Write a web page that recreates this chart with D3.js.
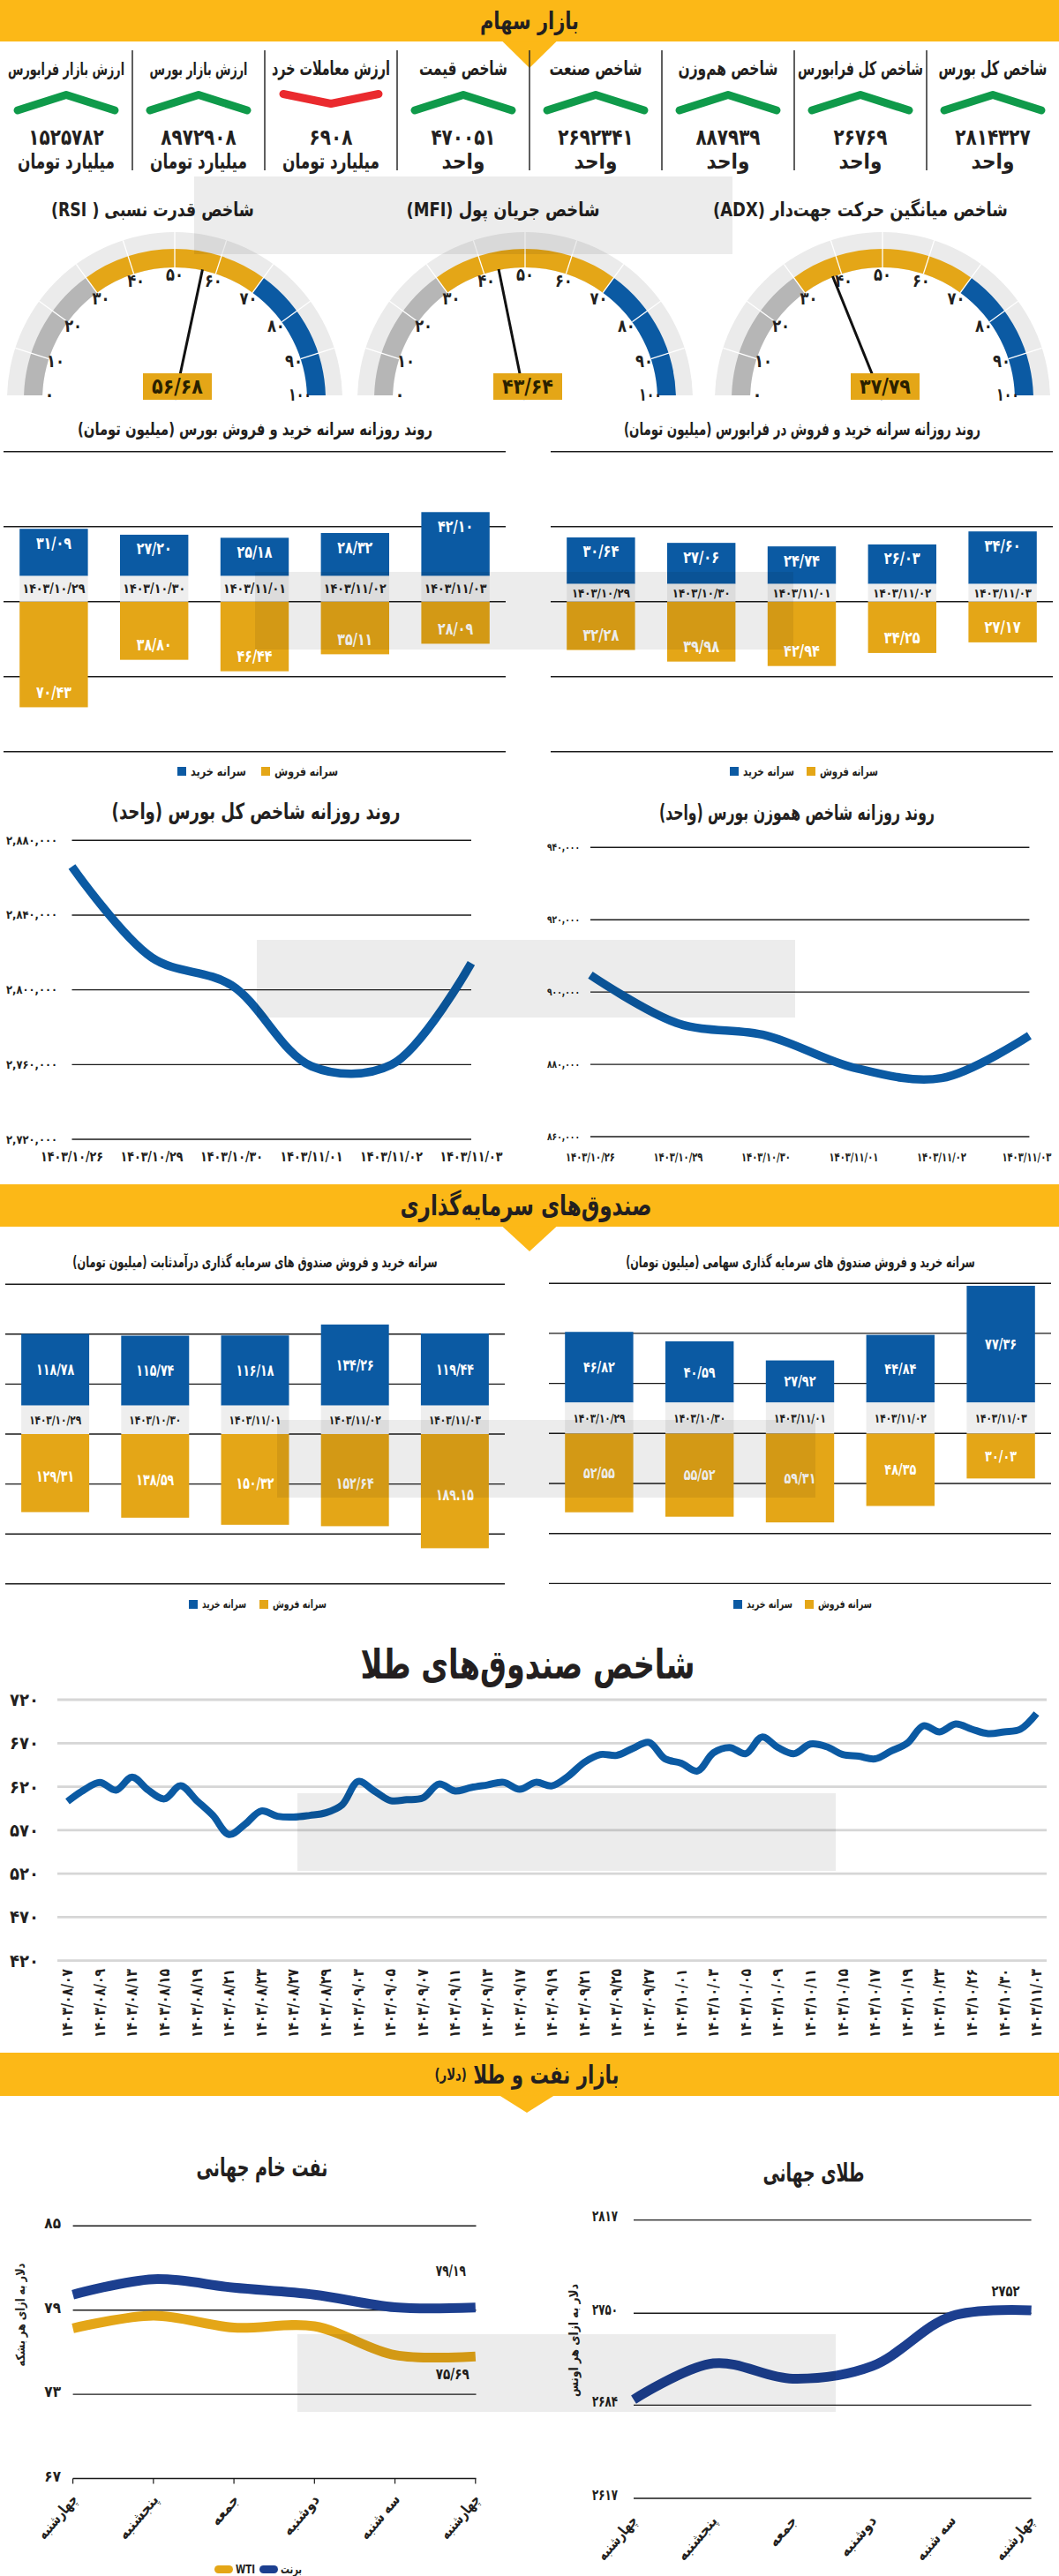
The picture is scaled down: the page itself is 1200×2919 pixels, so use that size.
<!DOCTYPE html>
<html lang="fa"><head><meta charset="utf-8">
<script src="https://cdnjs.cloudflare.com/ajax/libs/d3/7.8.5/d3.min.js"></script>
<style>
html,body{margin:0;padding:0;background:#fff;}
svg{display:block;}
text{font-family:"DejaVu Sans Condensed","DejaVu Sans",sans-serif;font-weight:bold;fill:#231f20;}
</style></head><body>
<svg id="c" width="1200" height="2919" viewBox="0 0 1200 2919"></svg>
<script>
// ================= DATA =================
const indicatorTitles = ["شاخص کل بورس","شاخص کل فرابورس","شاخص هم‌وزن","شاخص صنعت","شاخص قیمت","ارزش معاملات خرد","ارزش بازار بورس","ارزش بازار فرابورس"];
const indicatorValues = [2814327, 26769, 887939, 2692341, 470051, 6908, 8972908, 1525782];
const indicatorUnits = ["واحد","واحد","واحد","واحد","واحد","میلیارد تومان","میلیارد تومان","میلیارد تومان"];
const indicatorTrend = ["up","up","up","up","up","down","up","up"];

const gaugeTitles = ["شاخص میانگین حرکت جهت‌دار (ADX)","شاخص جریان پول (MFI)","شاخص قدرت نسبی ( RSI)"];
const gaugeValues = [37.79, 43.64, 56.68];
const gaugeTicks = [0,10,20,30,40,50,60,70,80,90,100];
const gaugeZones = [0,30,70,100];

const tradeDates = ["۱۴۰۳/۱۰/۲۹","۱۴۰۳/۱۰/۳۰","۱۴۰۳/۱۱/۰۱","۱۴۰۳/۱۱/۰۲","۱۴۰۳/۱۱/۰۳"];
const bourseBuy  = [31.09, 27.20, 25.18, 28.32, 42.10];
const bourseSell = [70.43, 38.80, 46.44, 35.11, 28.09];
const faraBuy    = [30.64, 27.06, 24.74, 26.03, 34.60];
const faraSell   = [32.28, 39.98, 42.94, 34.25, 27.17];
const legendLabels = ["سرانه خرید","سرانه فروش"];

const indexDates = ["۱۴۰۳/۱۰/۲۶","۱۴۰۳/۱۰/۲۹","۱۴۰۳/۱۰/۳۰","۱۴۰۳/۱۱/۰۱","۱۴۰۳/۱۱/۰۲","۱۴۰۳/۱۱/۰۳"];
const totalIndex = [2866000, 2817300, 2802400, 2759100, 2759900, 2814327];
const totalIndexTicks = [2720000, 2760000, 2800000, 2840000, 2880000];
const equalIndex = [904700, 891300, 888000, 879100, 876200, 887939];
const equalIndexTicks = [860000, 880000, 900000, 920000, 940000];

const fixedBuy   = [118.78, 115.74, 116.18, 134.26, 119.44];
const fixedSell  = [129.31, 138.59, 150.32, 152.64, 189.15];
const equityBuy  = [46.82, 40.59, 27.92, 44.84, 77.36];
const equitySell = [52.55, 55.52, 59.31, 48.35, 30.03];

const goldFundDates = ["۱۴۰۳/۰۸/۰۷","۱۴۰۳/۰۸/۰۹","۱۴۰۳/۰۸/۱۳","۱۴۰۳/۰۸/۱۵","۱۴۰۳/۰۸/۱۹","۱۴۰۳/۰۸/۲۱","۱۴۰۳/۰۸/۲۳","۱۴۰۳/۰۸/۲۷","۱۴۰۳/۰۸/۲۹","۱۴۰۳/۰۹/۰۳","۱۴۰۳/۰۹/۰۵","۱۴۰۳/۰۹/۰۷","۱۴۰۳/۰۹/۱۱","۱۴۰۳/۰۹/۱۳","۱۴۰۳/۰۹/۱۷","۱۴۰۳/۰۹/۱۹","۱۴۰۳/۰۹/۲۱","۱۴۰۳/۰۹/۲۵","۱۴۰۳/۰۹/۲۷","۱۴۰۳/۱۰/۰۱","۱۴۰۳/۱۰/۰۳","۱۴۰۳/۱۰/۰۵","۱۴۰۳/۱۰/۰۹","۱۴۰۳/۱۰/۱۱","۱۴۰۳/۱۰/۱۵","۱۴۰۳/۱۰/۱۷","۱۴۰۳/۱۰/۱۹","۱۴۰۳/۱۰/۲۳","۱۴۰۳/۱۰/۲۶","۱۴۰۳/۱۰/۳۰","۱۴۰۳/۱۱/۰۳"];
const goldFundValues = [603,616,625,616,631,616,606,621,604,587,
                        565,577,592,586,585,587,590,599,626,615,
                        604,605,607,623,615,619,622,625,617,625,
                        621,632,648,657,656,664,671,652,647,638,
                        659,665,658,677,665,658,669,666,657,655,
                        652,661,670,690,683,692,686,681,683,686,704];
const goldFundTicks = [420,470,520,570,620,670,720];

const weekDays = ["چهارشنبه","پنجشنبه","جمعه","دوشنبه","سه شنبه","چهارشنبه"];
const brent = [80.1, 81.2, 80.6, 80.1, 79.2, 79.19];
const wti   = [77.7, 78.6, 77.75, 77.85, 75.8, 75.69];
const oilTicks = [67, 73, 79, 85];
const oilLegend = ["WTI","برنت"];
const goldPrice = [2688, 2714, 2703, 2712, 2748, 2752];
const goldTicks = [2617, 2684, 2750, 2817];

// ================= HELPERS =================
const FA = "۰۱۲۳۴۵۶۷۸۹";
const fa = s => String(s).replace(/[0-9]/g, d => FA[+d]);
const dec = (v, sep) => fa(v.toFixed(2)).replace(".", sep || "/");
const C = {yellow:"#fcb817", blue:"#0b5aa3", gold:"#e4a617", gray:"#b6b6b6", ring:"#ebebeb",
           green:"#0f9a4a", red:"#ea2a2e", navy:"#1c3f8f", band:"#eeeeee"};

const svg = d3.select("#c");
svg.append("rect").attr("width",1200).attr("height",2919).attr("fill","#fff");
const defs = svg.append("defs");

// Make the text fit the width it has in the reference: condense horizontally
// (the reference face is a condensed one) down to 72%, then shrink the size.
const MINX = 0.72;
function fit(t, w, x, y, rot){
  let sx = 1;
  if(w){
    const L = t.node().getComputedTextLength();
    if(L > w){
      let k = w / L;
      if(k < MINX){
        const f = k / MINX;
        const fs = t.attr("font-size");
        if(fs) t.attr("font-size", (+fs*f).toFixed(2));
        t.selectAll("tspan").each(function(){
          const s = d3.select(this); s.attr("font-size", (+s.attr("font-size")*f).toFixed(2));
        });
        k = MINX;
      }
      sx = k;
    }
  }
  let tr = "";
  if(rot != null) tr += `rotate(${rot},${x},${y}) `;
  if(sx !== 1) tr += `translate(${x},${y}) scale(${sx.toFixed(4)},1) translate(${-x},${-y})`;
  if(tr) t.attr("transform", tr.trim());
  return t;
}
function T(p, x, y, s, o){
  o = o || {};
  const t = p.append("text").attr("x",x).attr("y",y).attr("font-size",o.size||14)
    .attr("text-anchor",o.anchor||"middle").attr("dominant-baseline","central").text(s);
  if(o.rtl) t.attr("direction","rtl");
  if(o.fill) t.style("fill",o.fill);
  fit(t, o.w, x, y, o.rot);
  return t;
}
function header(y0, h, tri, cx){
  svg.append("rect").attr("x",0).attr("y",y0).attr("width",1200).attr("height",h).attr("fill",C.yellow);
  svg.append("path").attr("d",`M${cx-31},${y0+h-0.5}L${cx+31},${y0+h-0.5}L${cx},${y0+h+tri}Z`).attr("fill",C.yellow);
}

// ================= SECTION 1: headers & indicators =================
header(0, 47, 30, 600);
T(svg, 600, 24, "بازار سهام", {size:27, rtl:true, w:112});

const indicatorTitleW = [123, 142, 113, 105, 100, 134, 111, 132];
const colX = d3.scaleBand().domain(d3.range(indicatorTitles.length)).range([1200, 0]);
d3.range(1, indicatorTitles.length).forEach(k => {
  const xx = colX(k) + colX.bandwidth();
  svg.append("line").attr("x1",xx).attr("x2",xx).attr("y1",57).attr("y2",193)
    .attr("stroke","#2a2a2a").attr("stroke-width",1.5);
});
indicatorTitles.forEach((t, i) => {
  const cx = colX(i) + colX.bandwidth()/2;
  T(svg, cx, 78, t, {size:22, rtl:true, w:indicatorTitleW[i]});
  const up = indicatorTrend[i] === "up";
  const pts = up ? [[cx-55,125],[cx,107.5],[cx+55,125]] : [[cx-54,106.5],[cx,117.5],[cx+54,106.5]];
  svg.append("path").attr("d", d3.line()(pts)).attr("fill","none")
    .attr("stroke", up ? C.green : C.red).attr("stroke-width",9)
    .attr("stroke-linecap","round").attr("stroke-linejoin","round");
  const s = String(indicatorValues[i]);
  T(svg, cx, 156, fa(s), {size:25, w:s.length*12.2});
  T(svg, cx, 183, indicatorUnits[i], {size:24, rtl:true, w:110});
});

// ================= GAUGES =================
const gaugeCx = [1000, 595, 198];
const gaugeTitleW = [334, 219, 230];
const gCy = 453;
const ang = d3.scaleLinear().domain([0,100]).range([-Math.PI/2, Math.PI/2]);
defs.append("clipPath").attr("id","gclip").append("rect")
  .attr("x",-220).attr("y",-260).attr("width",440).attr("height",255);
const zoneColors = [C.gray, C.gold, C.blue];
gaugeValues.forEach((v, i) => {
  const cx = gaugeCx[i];
  T(svg, cx-25, 238, gaugeTitles[i], {size:22, rtl:true, w:gaugeTitleW[i]});
  const g = svg.append("g").attr("transform",`translate(${cx},${gCy})`);
  const ga = g.append("g").attr("clip-path","url(#gclip)");
  ga.append("path").attr("d", d3.arc()({innerRadius:150, outerRadius:190, startAngle:ang(0), endAngle:ang(100)}))
    .attr("fill", C.ring);
  d3.range(gaugeZones.length-1).forEach(z => {
    ga.append("path").attr("d", d3.arc()({innerRadius:150, outerRadius:171,
      startAngle:ang(gaugeZones[z]), endAngle:ang(gaugeZones[z+1])})).attr("fill", zoneColors[z]);
  });
  gaugeTicks.slice(1,-1).forEach(t => {
    const a = ang(t);
    ga.append("line").attr("x1",150*Math.sin(a)).attr("y1",-150*Math.cos(a))
      .attr("x2",190*Math.sin(a)).attr("y2",-190*Math.cos(a))
      .attr("stroke","#fff").attr("stroke-width",1.3);
  });
  gaugeTicks.forEach(t => {
    const a = ang(t);
    T(g, 142*Math.sin(a), Math.min(-142*Math.cos(a), -6), fa(t), {size:20, w: t === 100 ? 26 : 20});
  });
  const a = ang(v);
  g.append("line").attr("x1",0).attr("y1",0).attr("x2",151*Math.sin(a)).attr("y2",-151*Math.cos(a))
    .attr("stroke","#111").attr("stroke-width",3);
  g.append("rect").attr("x",-36).attr("y",-30).attr("width",78).attr("height",30).attr("fill",C.gold);
  T(g, 3, -15, dec(v), {size:24, w:58, fill:"#2a2100"});
});

// ================= BAR CHARTS =================
function barChart(o){
  const g = svg.append("g");
  const n = o.buy.length;
  const x = d3.scaleBand().domain(d3.range(n)).range([o.x0, o.x1]).paddingInner(0.32).paddingOuter(0.16);
  const yB = d3.scaleLinear().domain([0,100]).range([o.bandTop, o.bandTop - 100*o.kBuy]);
  const yS = d3.scaleLinear().domain([0,100]).range([o.bandBottom, o.bandBottom + 100*o.kSell]);
  T(g, o.tx, o.ty, o.title, {size:o.tsize||17, rtl:true, w:o.tw});
  const gv = d3.range(-o.gridN, o.gridN+1).map(k => k*o.gridStep);
  g.selectAll(null).data(gv).join("line").attr("x1",o.x0).attr("x2",o.x1)
    .attr("y1",d=>yS(d)).attr("y2",d=>yS(d)).attr("stroke","#1a1a1a").attr("stroke-width",1.4);
  g.selectAll(null).data(o.buy).join("rect").attr("x",(d,i)=>x(i)).attr("width",x.bandwidth())
    .attr("y",d=>yB(d)).attr("height",d=>yB(0)-yB(d)).attr("fill",C.blue);
  g.selectAll(null).data(o.sell).join("rect").attr("x",(d,i)=>x(i)).attr("width",x.bandwidth())
    .attr("y",yS(0)).attr("height",d=>yS(d)-yS(0)).attr("fill",C.gold);
  o.dates.forEach((d,i) => {
    g.append("rect").attr("x",x(i)).attr("width",x.bandwidth()).attr("y",o.bandTop)
      .attr("height",o.bandBottom-o.bandTop).attr("fill",C.band);
    T(g, x(i)+x.bandwidth()/2, (o.bandTop+o.bandBottom)/2, d, {size:o.dsize||14, w:o.dw});
  });
  o.buy.forEach((v,i) => {
    const yy = o.labels === "end" ? yB(v) + 16 : (yB(v) + yB(0))/2;
    T(g, x(i)+x.bandwidth()/2, yy, dec(v), {size:o.vsize||17, w:o.vw, fill:"#fff"});
  });
  o.sell.forEach((v,i) => {
    const yy = o.labels === "end" ? yS(v) - 17 : (yS(v) + yS(0))/2 + o.sellShift;
    T(g, x(i)+x.bandwidth()/2, yy, dec(v, o.sellSep ? o.sellSep[i] : "/"), {size:o.vsize||17, w:o.vw, fill:"#fff"});
  });
  const cols = [C.blue, C.gold];
  legendLabels.forEach((l,k) => {
    const lx = o.legendX[k];
    g.append("rect").attr("x",lx).attr("y",o.legendY-5).attr("width",10).attr("height",10).attr("fill",cols[k]);
    T(g, lx+15, o.legendY, l, {size:o.lsize||14, anchor:"start", w:o.legendW[k]});
  });
}
barChart({buy:bourseBuy, sell:bourseSell, dates:tradeDates, x0:4, x1:573, bandTop:652.7, bandBottom:681.7,
  kBuy:1.72, kSell:1.70, gridStep:50, gridN:2, labels:"end",
  title:"روند روزانه سرانه خرید و فروش بورس (میلیون تومان)", tx:289, ty:486, tw:402, tsize:20,
  dsize:15, dw:71, vsize:19, vw:40, legendY:874, legendX:[201,296], legendW:[63,72]});
barChart({buy:faraBuy, sell:faraSell, dates:tradeDates, x0:624, x1:1193, bandTop:661.7, bandBottom:681.7,
  kBuy:1.72, kSell:1.70, gridStep:50, gridN:2, labels:"end",
  title:"روند روزانه سرانه خرید و فروش در فرابورس (میلیون تومان)", tx:909, ty:486, tw:404, tsize:20,
  dsize:14, dw:66, vsize:19, vw:41, legendY:874, legendX:[827,914], legendW:[58,66]});
barChart({buy:fixedBuy, sell:fixedSell, dates:tradeDates, x0:6, x1:572, bandTop:1592.7, bandBottom:1625,
  kBuy:0.684, kSell:0.684, gridStep:82.75, gridN:3, labels:"center", sellShift:4, sellSep:["/","/","/","/","."],
  title:"سرانه خرید و فروش صندوق های سرمایه گذاری درآمدثابت (میلیون تومان)", tx:289, ty:1430, tw:414, tsize:18,
  dsize:14, dw:59, vsize:18, vw:43, legendY:1818, legendX:[214,294], legendW:[50,61], lsize:13});
barChart({buy:equityBuy, sell:equitySell, dates:tradeDates, x0:622, x1:1191, bandTop:1589.3, bandBottom:1624.3,
  kBuy:1.71, kSell:1.70, gridStep:33.35, gridN:3, labels:"center", sellShift:0,
  title:"سرانه خرید و فروش صندوق های سرمایه گذاری سهامی (میلیون تومان)", tx:907, ty:1430, tw:396, tsize:18,
  dsize:14, dw:59, vsize:17, vw:36, legendY:1818, legendX:[831,912], legendW:[52,61], lsize:13});

// ================= LINE CHARTS =================
function lineChart(o){
  const g = svg.append("g");
  const x = d3.scalePoint().domain(d3.range(o.values.length)).range([o.px0, o.px1]);
  const y = d3.scaleLinear().domain([o.ticks[0], o.ticks[o.ticks.length-1]]).range([o.yBottom, o.yTop]);
  T(g, o.tx, o.ty, o.title, {size:o.tsize, rtl:true, w:o.tw});
  o.ticks.forEach(t => {
    g.append("line").attr("x1",o.px0).attr("x2",o.px1).attr("y1",y(t)).attr("y2",y(t))
      .attr("stroke","#1a1a1a").attr("stroke-width",1.4);
    T(g, o.labelX, y(t), fa(d3.format(",")(t)), {size:o.ylSize, anchor:"end", w:o.ylW});
  });
  o.dates.forEach((d,i) => T(g, x(i) + (o.xlShift ? o.xlShift[i] : 0), o.xlY, d, {size:o.xlSize, w:o.xlW}));
  g.append("path").datum(o.values)
    .attr("d", d3.line().x((d,i)=>x(i)).y(d=>y(d)).curve(d3.curveCatmullRom.alpha(0.5)))
    .attr("fill","none").attr("stroke",C.blue).attr("stroke-width",9.5);
}
lineChart({values:totalIndex, ticks:totalIndexTicks, dates:indexDates, px0:81.5, px1:534,
  yBottom:1291, yTop:952.3, labelX:65, ylSize:13, ylW:58, xlY:1311, xlSize:16, xlW:71,
  title:"روند روزانه شاخص کل بورس (واحد)", tx:290, ty:919, tw:327, tsize:25});
lineChart({values:equalIndex, ticks:equalIndexTicks, dates:indexDates, px0:669, px1:1166.4,
  yBottom:1288, yTop:960.3, labelX:657, ylSize:12, ylW:37, xlY:1311, xlSize:14, xlW:56,
  xlShift:[0,0,0,0,0,-3],
  title:"روند روزانه شاخص هموزن بورس (واحد)", tx:903, ty:921, tw:312, tsize:25});

// ================= SECTION 2 header =================
header(1342, 48, 28, 600);
T(svg, 596, 1366, "صندوق‌های سرمایه‌گذاری", {size:32, rtl:true, w:285});

// ================= GOLD FUNDS INDEX =================
(function(){
  const g = svg.append("g");
  const x = d3.scaleLinear().domain([0, goldFundValues.length-1]).range([76.5, 1174.5]);
  const y = d3.scaleLinear().domain([420, 720]).range([2221.7, 1926]);
  T(g, 598, 1886, "شاخص صندوق‌های طلا", {size:46, rtl:true, w:379});
  goldFundTicks.forEach(t => {
    g.append("line").attr("x1",65).attr("x2",1186).attr("y1",y(t)).attr("y2",y(t))
      .attr("stroke","#d6d6d6").attr("stroke-width",2.8);
    T(g, 44, y(t), fa(t), {size:20, anchor:"end", w:34});
  });
  goldFundDates.forEach((d,k) => {
    T(g, x(2*k), 2231, d, {size:17, anchor:"end", rot:-90, w:78});
  });
  g.append("path").datum(goldFundValues)
    .attr("d", d3.line().x((d,i)=>x(i)).y(d=>y(d)).curve(d3.curveCatmullRom.alpha(0.5)))
    .attr("fill","none").attr("stroke",C.blue).attr("stroke-width",8);
})();

// ================= SECTION 3: oil & gold =================
header(2326, 49, 19, 597);
(function(){
  const t = svg.append("text").attr("x",597).attr("y",2350).attr("text-anchor","middle")
    .attr("dominant-baseline","central").attr("direction","rtl");
  t.append("tspan").attr("font-size",29).text("بازار نفت و طلا ");
  t.append("tspan").attr("font-size",18).text("(دلار)");
  fit(t, 209, 597, 2350);
})();

// Oil chart
(function(){
  const g = svg.append("g");
  const x = d3.scalePoint().domain(d3.range(weekDays.length)).range([82.6, 538.8]);
  const y = d3.scaleLinear().domain([67, 85]).range([2808.5, 2522.3]);
  T(g, 297, 2456, "نفت خام جهانی", {size:34, rtl:true, w:149});
  oilTicks.forEach(t => {
    g.append("line").attr("x1",82.6).attr("x2",539.5).attr("y1",y(t)).attr("y2",y(t))
      .attr("stroke","#1a1a1a").attr("stroke-width",1.4);
    T(g, 69, y(t)-3, fa(t), {size:17, anchor:"end", w:20});
  });
  weekDays.forEach((d,i) => {
    g.append("line").attr("x1",x(i)).attr("x2",x(i)).attr("y1",y(67)).attr("y2",y(67)+6)
      .attr("stroke","#1a1a1a").attr("stroke-width",1.2);
    T(g, x(i)+2, 2829, d, {size:17, anchor:"end", rot:-50, w:60});
  });
  const line = d3.line().x((d,i)=>x(i)).y(d=>y(d)).curve(d3.curveCatmullRom.alpha(0.5));
  g.append("path").datum(wti).attr("d",line).attr("fill","none").attr("stroke",C.gold).attr("stroke-width",11);
  g.append("path").datum(brent).attr("d",line).attr("fill","none").attr("stroke",C.navy).attr("stroke-width",11);
  const L = brent.length-1;
  T(g, x(L)-28, y(brent[L])-41, dec(brent[L]), {size:17, w:34});
  T(g, x(L)-26, y(wti[L])+20, dec(wti[L]), {size:17, w:38});
  T(g, 23, 2623, "دلار به ازای هر بشکه", {size:14, rtl:true, rot:-90, w:117});
  const lc = [C.gold, C.navy], lx = [243, 294];
  oilLegend.forEach((l,k) => {
    g.append("rect").attr("x",lx[k]).attr("y",2907).attr("width",21).attr("height",9).attr("rx",4.5).attr("fill",lc[k]);
    T(g, lx[k]+24, 2911, l, {size:14, anchor:"start", w:k?24:22});
  });
})();

// Gold chart
(function(){
  const g = svg.append("g");
  const x = d3.scalePoint().domain(d3.range(weekDays.length)).range([718, 1168.6]);
  const y = d3.scaleLinear().domain([2617, 2817]).range([2831, 2515.6]);
  T(g, 922, 2462, "طلای جهانی", {size:34, rtl:true, w:115});
  goldTicks.forEach(t => {
    g.append("line").attr("x1",718).attr("x2",1168.6).attr("y1",y(t)).attr("y2",y(t))
      .attr("stroke","#1a1a1a").attr("stroke-width",1.4);
    T(g, 700, y(t)-4, fa(t), {size:17, anchor:"end", w:29});
  });
  weekDays.forEach((d,i) => T(g, x(i)+1, 2853, d, {size:17, anchor:"end", rot:-50, w:60}));
  g.append("path").datum(goldPrice)
    .attr("d", d3.line().x((d,i)=>x(i)).y(d=>y(d)).curve(d3.curveCatmullRom.alpha(0.5)))
    .attr("fill","none").attr("stroke",C.navy).attr("stroke-width",11);
  const L = goldPrice.length-1;
  T(g, x(L)-29, y(goldPrice[L])-22, fa(goldPrice[L]), {size:17, w:32});
  T(g, 650, 2652, "دلار به ازای هر اونس", {size:14, rtl:true, rot:-90, w:128});
})();

// ================= WATERMARK BOXES =================
const wmPos = [[220,200],[289,648],[291,1065],[314,1609],[337,2032],[337,2645]];
wmPos.forEach(p => {
  svg.append("rect").attr("x",p[0]).attr("y",p[1]).attr("width",610).attr("height",88)
    .attr("fill","#000").attr("opacity",0.075);
});
</script></body></html>
